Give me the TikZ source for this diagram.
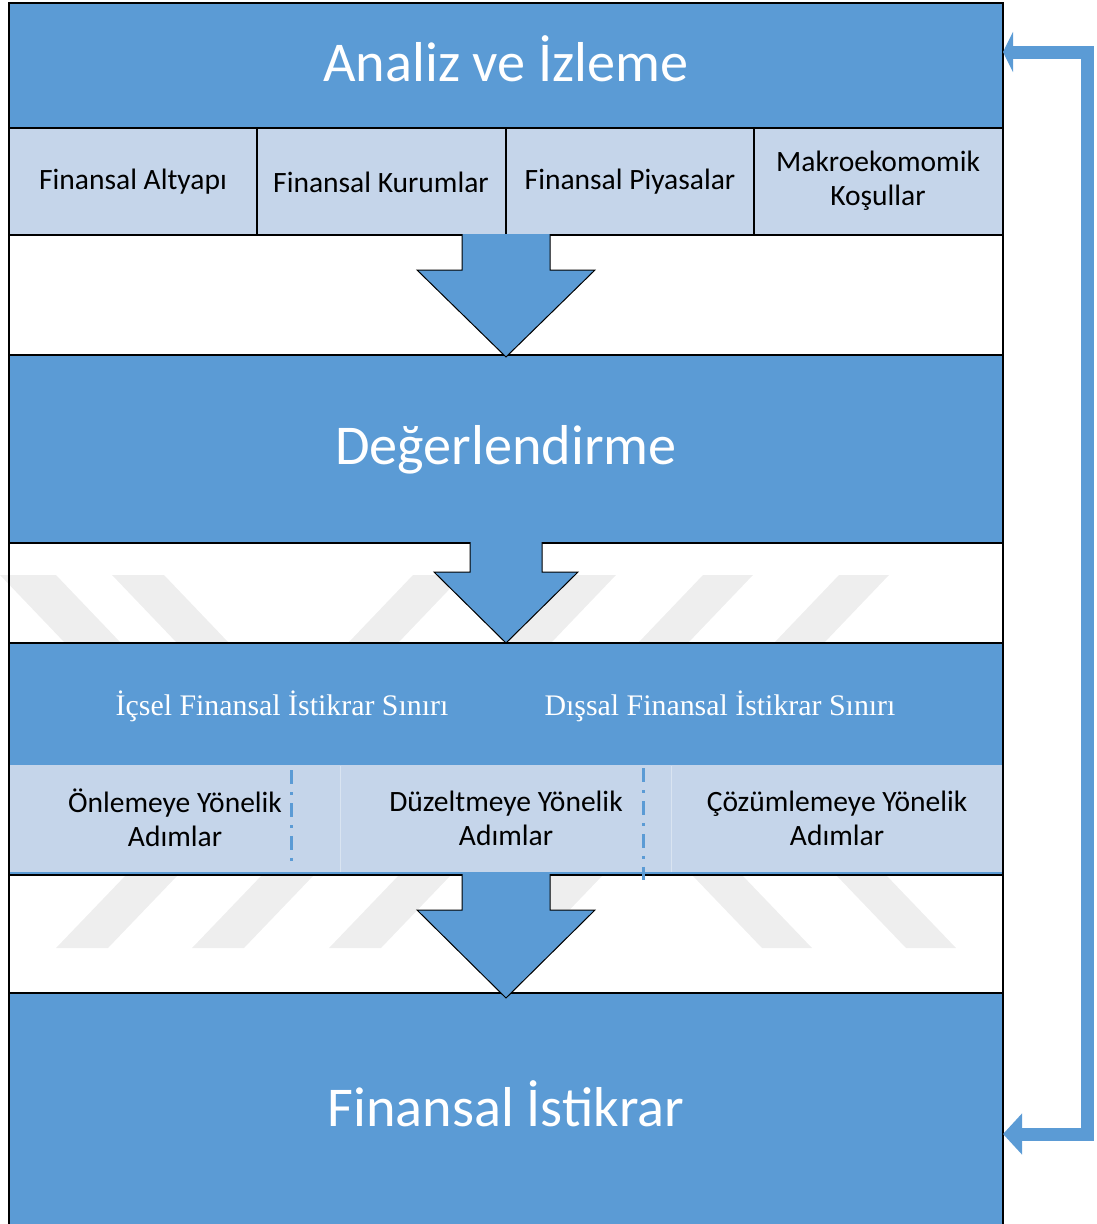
\documentclass[tikz,border=0pt]{standalone}
\usepackage{fontspec}
\setmainfont{Carlito}
\newfontfamily\seriffam{Liberation Serif}
\usetikzlibrary{arrows.meta}
\definecolor{boxblue}{HTML}{5B9BD5}
\definecolor{rowblue}{HTML}{C5D5EA}
\definecolor{wmgray}{HTML}{EEEEEE}
% block arrow: (centre x, top y)(head y, tip y)(shaft half, head half)
\def\blockarrow(#1,#2)(#3,#4)(#5,#6){\draw[blockarr] ({#1-#5},#2) -- ({#1-#5},#3) -- ({#1-#6},#3) -- (#1,#4) -- ({#1+#6},#3) -- ({#1+#5},#3) -- ({#1+#5},#2);}
% one watermark stripe: (top left x, top width)(shift to bottom)(top y, bottom y)
\def\wmstripe(#1,#2)(#3)(#4,#5){\fill[wmgray] (#1,#4) -- ({#1+#2},#4) -- ({#1+#2+#3},#5) -- ({#1+#3},#5) -- cycle;}

\tikzset{
	bigbox/.style={fill=boxblue, draw=black, line width=0.03cm},
	rowbox/.style={fill=rowblue, draw=black, line width=0.03cm},
	blockarr/.style={fill=boxblue, draw=black, line width=0.02cm},
	titletext/.style={text=white, font=\fontsize{32}{36}\selectfont},
	rowtext/.style={text=black, align=center, font=\fontsize{16.8}{19.5}\selectfont},
	sinirtext/.style={text=white, font=\seriffam\fontsize{17}{20}\selectfont},
	divider/.style={draw=boxblue, line width=0.06cm, dash pattern=on 0.28cm off 0.16cm on 0.06cm off 0.16cm},
	feedback/.style={draw=boxblue, line width=0.26cm, {Triangle[length=0.2cm,width=0.8cm]}-{Triangle[length=0.38cm,width=0.8cm]}}
}

\begin{document}
\begin{tikzpicture}[x=0.02cm, y=-0.02cm]
	\useasboundingbox (0,0) rectangle (1096,1224);
	
	%%%%% watermark stripes %%%%%
	\wmstripe(0,56)(65)(575,643)
	\wmstripe(112,52)(65)(575,643)
	\foreach \sx in {413,566,703,839}{\wmstripe(\sx,50)(-65)(575,643)}
	\foreach \sx in {126,262,399,551}{\wmstripe(\sx,52)(-70)(875,948)}
	\foreach \sx in {692,836}{\wmstripe(\sx,50)(70)(875,948)}
	
	%%%%% frame %%%%%
	\draw[line width=0.03cm] (9,3) rectangle (1003,1240);
	
	%%%%% analiz ve izleme %%%%%
	\draw[bigbox] (9,3) rectangle (1003,128);
	\node[titletext] (analiz) at (506,59) {Analiz ve İzleme};
	
	\draw[rowbox] (9,128) rectangle (257,235);
	\draw[rowbox] (257,128) rectangle (506,235);
	\draw[rowbox] (506,128) rectangle (754,235);
	\draw[rowbox] (754,128) rectangle (1003,235);
	\node[rowtext] (altyapi) at (133,182) {Finansal Altyapı};
	\node[rowtext] (kurum) at (381,182) {Finansal Kurumlar};
	\node[rowtext] (piyasa) at (630,182) {Finansal Piyasalar};
	\node[rowtext] (makro) at (878,181) {Makroekomomik\\Koşullar};
	
	%%%%% degerlendirme %%%%%
	\draw[bigbox] (9,355) rectangle (1003,543);
	\node[titletext] (deger) at (506,450) {Değerlendirme};
	
	%%%%% istikrar sinirlari %%%%%
	\draw[bigbox] (9,643) rectangle (1003,875);
	\fill[rowblue] (10,765) rectangle (1002,872);
	\draw[boxblue, line width=0.03cm] (10,873) -- (1002,873);
	\draw[white!35!rowblue, line width=0.02cm] (340,766) -- (340,872);
	\draw[white!35!rowblue, line width=0.02cm] (671,766) -- (671,872);
	\node[sinirtext] (icsel) at (282,706) {İçsel Finansal İstikrar Sınırı};
	\node[sinirtext] (dissal) at (720,706) {Dışsal Finansal İstikrar Sınırı};
	
	\node[rowtext] (onleme) at (175,818) {Önlemeye Yönelik\\Adımlar};
	\node[rowtext] (duzeltme) at (506,818) {Düzeltmeye Yönelik\\Adımlar};
	\node[rowtext] (cozum) at (837,818) {Çözümlemeye Yönelik\\Adımlar};
	\draw[divider] (291,770) -- (291,868);
	\draw[divider] (643,768) -- (643,880);
	
	%%%%% finansal istikrar %%%%%
	\draw[bigbox] (9,993) rectangle (1003,1240);
	\node[titletext] (istikrar) at (506,1104) {Finansal İstikrar};
	
	%%%%% arrows %%%%%
	\blockarrow(506,234)(270,357)(44,89)
	\blockarrow(506,542)(572,643)(36,72)
	\blockarrow(506,874)(910,998)(44,89)
	
	\coordinate (fbtop) at (1003,52);
	\coordinate (fbbot) at (1003,1134);
	\draw[feedback] (fbtop) -- ++(84,0) |- (fbbot);
\end{tikzpicture}
\end{document}
